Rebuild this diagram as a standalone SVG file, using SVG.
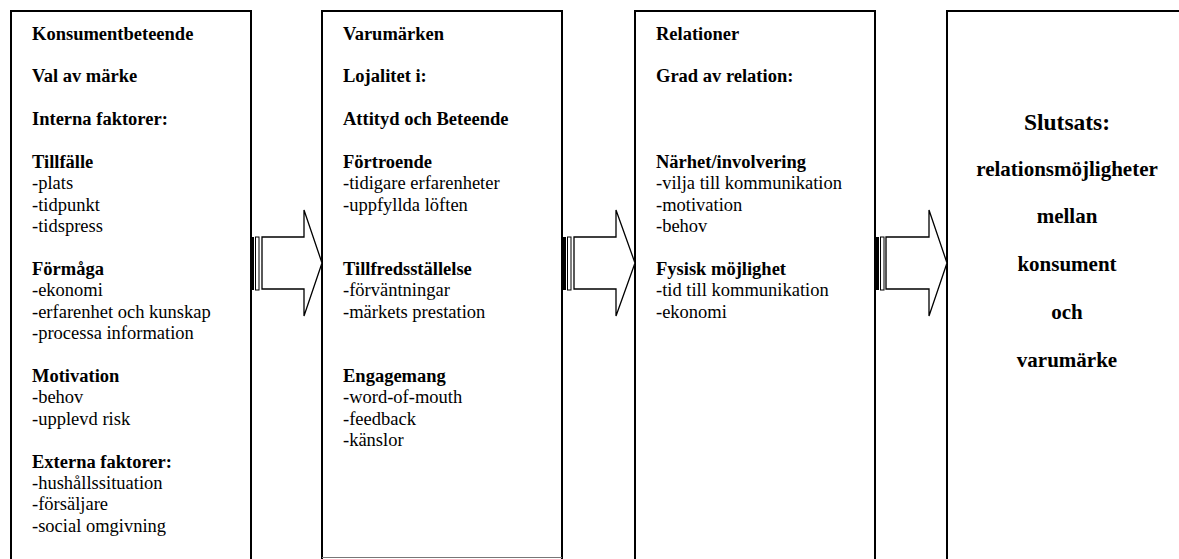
<svg xmlns="http://www.w3.org/2000/svg" width="1179" height="559" viewBox="0 0 1179 559">
  <style>
    .box { fill: #fff; stroke: #000; stroke-width: 2; }
    .t { font-family: "Liberation Serif", "Times New Roman", serif; font-size: 18.5px; fill: #000; }
    .b { font-weight: bold; }
    .c { font-family: "Liberation Serif", "Times New Roman", serif; font-weight: bold; font-size: 21px; fill: #000; text-anchor: middle; }
    .arrow { fill: #fff; stroke: #000; stroke-width: 1.3; stroke-linejoin: miter; }
    .bar { fill: #000; }
    .stripe { fill: #fff; stroke: #000; stroke-width: 1; }
  </style>

  <rect width="1179" height="559" fill="#fff"/>

  <!-- Column 1: consumer behaviour -->
  <g id="konsumentbeteende">
    <rect class="box" x="11" y="11" width="240" height="560"/>
    <text class="t" x="32">
      <tspan class="b" x="32" y="39.5">Konsumentbeteende</tspan>
      <tspan class="b" x="32" y="82.3">Val av märke</tspan>
      <tspan class="b" x="32" y="125.1">Interna faktorer:</tspan>
      <tspan class="b" x="32" y="167.9">Tillfälle</tspan>
      <tspan x="32" y="189.3">-plats</tspan>
      <tspan x="32" y="210.7">-tidpunkt</tspan>
      <tspan x="32" y="232.1">-tidspress</tspan>
      <tspan class="b" x="32" y="274.9">Förmåga</tspan>
      <tspan x="32" y="296.3">-ekonomi</tspan>
      <tspan x="32" y="317.7">-erfarenhet och kunskap</tspan>
      <tspan x="32" y="339.1">-processa information</tspan>
      <tspan class="b" x="32" y="381.9">Motivation</tspan>
      <tspan x="32" y="403.3">-behov</tspan>
      <tspan x="32" y="424.7">-upplevd risk</tspan>
      <tspan class="b" x="32" y="467.5">Externa faktorer:</tspan>
      <tspan x="32" y="488.9">-hushållssituation</tspan>
      <tspan x="32" y="510.3">-försäljare</tspan>
      <tspan x="32" y="531.7">-social omgivning</tspan>
    </text>
  </g>

  <!-- Column 2: brands -->
  <g id="varumarken">
    <path d="M322,560 V11 H562 V560" fill="#fff" stroke="#000" stroke-width="2"/>
    <line x1="322" y1="557.5" x2="562" y2="557.5" stroke="#777" stroke-width="1"/>
    <text class="t">
      <tspan class="b" x="343" y="39.5">Varumärken</tspan>
      <tspan class="b" x="343" y="82.3">Lojalitet i:</tspan>
      <tspan class="b" x="343" y="125.1">Attityd och Beteende</tspan>
      <tspan class="b" x="343" y="167.9">Förtroende</tspan>
      <tspan x="343" y="189.3">-tidigare erfarenheter</tspan>
      <tspan x="343" y="210.7">-uppfyllda löften</tspan>
      <tspan class="b" x="343" y="274.9">Tillfredsställelse</tspan>
      <tspan x="343" y="296.3">-förväntningar</tspan>
      <tspan x="343" y="317.7">-märkets prestation</tspan>
      <tspan class="b" x="343" y="381.9">Engagemang</tspan>
      <tspan x="343" y="403.3">-word-of-mouth</tspan>
      <tspan x="343" y="424.7">-feedback</tspan>
      <tspan x="343" y="446.1">-känslor</tspan>
    </text>
  </g>

  <!-- Column 3: relations -->
  <g id="relationer">
    <rect class="box" x="635" y="11" width="240" height="560"/>
    <text class="t">
      <tspan class="b" x="656" y="39.5">Relationer</tspan>
      <tspan class="b" x="656" y="82.3">Grad av relation:</tspan>
      <tspan class="b" x="656" y="167.9">Närhet/involvering</tspan>
      <tspan x="656" y="189.3">-vilja till kommunikation</tspan>
      <tspan x="656" y="210.7">-motivation</tspan>
      <tspan x="656" y="232.1">-behov</tspan>
      <tspan class="b" x="656" y="274.9">Fysisk möjlighet</tspan>
      <tspan x="656" y="296.3">-tid till kommunikation</tspan>
      <tspan x="656" y="317.7">-ekonomi</tspan>
    </text>
  </g>

  <!-- Column 4: conclusion -->
  <g id="slutsats">
    <rect class="box" x="947" y="11" width="245" height="560"/>
    <text class="c" x="1067" y="130" style="font-size:23.5px">Slutsats:</text>
    <text class="c" x="1067" y="176">relationsmöjligheter</text>
    <text class="c" x="1067" y="223">mellan</text>
    <text class="c" x="1067" y="271">konsument</text>
    <text class="c" x="1067" y="319">och</text>
    <text class="c" x="1067" y="367">varumärke</text>
  </g>

  <!-- Striped block arrows between the columns -->
  <g id="connectors">
    <g id="arrow-1">
      <rect class="bar" x="250" y="237" width="4" height="53"/>
      <rect class="stripe" x="255.5" y="237" width="3.5" height="53"/>
      <polygon class="arrow" points="262,237 304,237 304,210 322,263 304,316 304,289 262,289"/>
    </g>
    <g id="arrow-2">
      <rect class="bar" x="562" y="237" width="4" height="53"/>
      <rect class="stripe" x="567.5" y="237" width="3.5" height="53"/>
      <polygon class="arrow" points="574,237 616,237 616,210 635,263 616,316 616,289 574,289"/>
    </g>
    <g id="arrow-3">
      <rect class="bar" x="875" y="237" width="4" height="53"/>
      <rect class="stripe" x="880.5" y="237" width="3.5" height="53"/>
      <polygon class="arrow" points="886,237 929,237 929,210 947,263 929,316 929,289 886,289"/>
    </g>
  </g>
</svg>
